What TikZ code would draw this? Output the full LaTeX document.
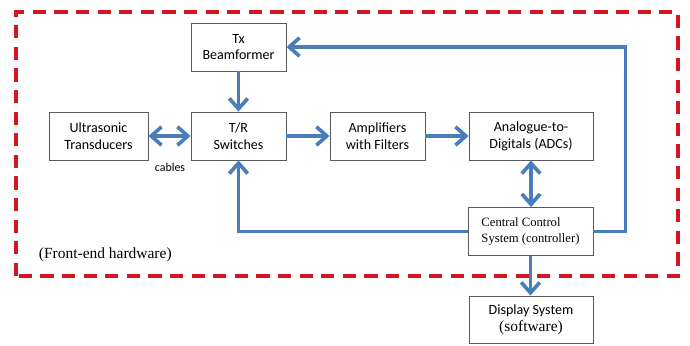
\documentclass[tikz,border=0pt]{standalone}
\usepackage{fontspec}
\setmainfont{Liberation Serif}
\newfontfamily\calfont{Carlito}
\usetikzlibrary{arrows.meta}
\definecolor{linkblue}{RGB}{74,126,187}
\definecolor{framered}{RGB}{212,22,32}
\definecolor{boxgray}{RGB}{90,90,90}

\begin{document}
\begin{tikzpicture}[
    block/.style={draw=boxgray, line width=0.6pt, minimum height=1.2cm, align=center, font=\calfont\fontsize{10}{12}\selectfont},
    link/.style={-{Straight Barb[length=2.6mm,width=4.6mm]}, line width=2.6pt, draw=linkblue},
    duplex/.style={{Straight Barb[length=2.6mm,width=4.6mm]}-{Straight Barb[length=2.6mm,width=4.6mm]}, line width=2.6pt, draw=linkblue},
    hwframe/.style={draw=framered, line width=2.6pt, dash pattern=on 0.33cm off 0.21cm}
]
    \useasboundingbox (0,0) rectangle (17.25,8.625);

    % front-end frame
    \draw[hwframe] (0.4,1.725) rectangle (16.95,8.325);
    \node[anchor=west, font=\fontsize{11}{13}\selectfont] (feh) at (0.85,2.25) {(Front-end hardware)};

    % blocks
    \node[block, minimum width=2.375cm] (tx) at (5.9625,7.45) {Tx\\Beamformer};
    \node[block, minimum width=2.475cm] (trans) at (2.4625,5.225) {Ultrasonic\\Transducers};
    \node[block, minimum width=2.375cm] (trsw) at (5.9625,5.225) {T/R\\Switches};
    \node[block, minimum width=2.375cm] (amp) at (9.4375,5.225) {Amplifiers\\with Filters};
    \node[block, minimum width=3.1cm] (adc) at (13.275,5.225) {Analogue-to-\\Digitals (ADCs)};
    \node[block, minimum width=3.125cm, align=left, font=\fontsize{9}{12}\selectfont] (ccs) at (13.2625,2.8375) {Central Control\\System (controller)};
    \node[block, minimum width=3.1cm, minimum height=1.175cm] (disp) at (13.275,0.6375) {Display System\\{\rmfamily\fontsize{11}{12}\selectfont(software)}};
    \node[font=\calfont\fontsize{8.5}{10}\selectfont] (cab) at (4.25,4.45) {cables};

    % connections
    \draw[link] (tx) -- (trsw);
    \draw[duplex] (trans) -- (trsw);
    \draw[link] (trsw) -- (amp);
    \draw[link] (amp) -- (adc);
    \draw[duplex] (adc.south) -- (adc.south |- ccs.north);
    \draw[link] (ccs.south) -- (ccs.south |- disp.north);
    \draw[link] (ccs.west) -| (trsw.south);
    \draw[link] (ccs.east) -- ++(0.8,0) |- (tx.east);
\end{tikzpicture}
\end{document}
